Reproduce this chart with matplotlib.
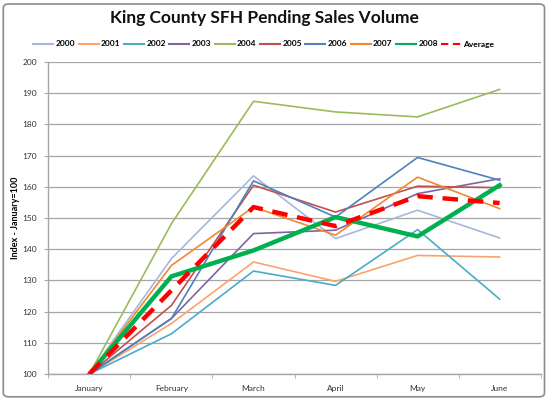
import matplotlib.pyplot as plt
from matplotlib.patches import FancyBboxPatch

plt.rcParams["font.family"] = ["Lato", "DejaVu Sans"]

# Data (index, January = 100)
months = ["January", "February", "March", "April", "May", "June"]

y2000 = [100, 137.0, 163.5, 143.4, 152.5, 143.6]
y2001 = [100, 116.2, 135.9, 129.7, 138.0, 137.5]
y2002 = [100, 112.9, 133.0, 128.4, 146.3, 124.0]
y2003 = [100, 117.8, 145.0, 146.1, 157.8, 162.6]
y2004 = [100, 148.2, 187.4, 184.0, 182.4, 191.2]
y2005 = [100, 122.0, 160.5, 151.9, 160.2, 159.7]
y2006 = [100, 117.8, 161.9, 150.3, 169.4, 162.1]
y2007 = [100, 134.8, 153.5, 144.5, 163.1, 153.0]
y2008 = [100, 131.3, 139.6, 150.3, 144.1, 160.5]
average = [100, 126.8, 153.5, 147.4, 157.0, 154.8]

series = [
    ("2000", y2000, "#A5B8DC"),
    ("2001", y2001, "#F9A46E"),
    ("2002", y2002, "#4BACC6"),
    ("2003", y2003, "#8064A2"),
    ("2004", y2004, "#9BBB59"),
    ("2005", y2005, "#C0504D"),
    ("2006", y2006, "#4F81BD"),
    ("2007", y2007, "#F0882E"),
]

fig = plt.figure(figsize=(5.5, 4), dpi=100)

# chart border
border = FancyBboxPatch((0.006, 0.008), 0.984, 0.982, boxstyle="round,pad=0,rounding_size=0.01",
                        transform=fig.transFigure, facecolor="white", edgecolor="#8C8C8C",
                        linewidth=1.2, zorder=-10)
fig.patches.append(border)

ax = fig.add_axes([0.088, 0.065, 0.895, 0.78])
ax.set_facecolor("none")

x = list(range(len(months)))
for name, vals, col in series:
    ax.plot(x, vals, color=col, linewidth=1.2, label=name, zorder=3)

ax.plot(x, y2008, color="#00B050", linewidth=3.2, label="2008", zorder=4)
ax.plot(x, average, color="#FF0000", linewidth=3.2, linestyle=(0, (3.5, 2.2)),
        label="Average", zorder=5)

ax.set_ylim(100, 200)
ax.set_yticks(range(100, 201, 10))
ax.set_xlim(-0.5, 5.5)
ax.set_xticks(x)
ax.set_xticklabels(months)
ax.set_xticks([i + 0.5 for i in range(-1, 6)], minor=True)

ax.grid(axis="y", color="#A6A6A6", linewidth=0.9)
ax.set_axisbelow(True)
ax.tick_params(axis="x", which="major", length=0, labelsize=6, colors="#333333", pad=8)
ax.tick_params(axis="x", which="minor", length=3, color="#A6A6A6")
ax.tick_params(axis="y", length=3, color="#A6A6A6", labelsize=6, labelcolor="#333333", pad=5)

for side in ["top", "right"]:
    ax.spines[side].set_visible(False)
for side in ["left", "bottom"]:
    ax.spines[side].set_color("#A6A6A6")
    ax.spines[side].set_linewidth(1.0)

ax.set_ylabel("Index - January=100", fontsize=6.5, fontweight="bold", labelpad=2)

fig.text(0.48, 0.955, "King County SFH Pending Sales Volume", ha="center", va="center",
         fontsize=12.5, fontweight="bold", color="#111111")

handles, labels = ax.get_legend_handles_labels()
leg = fig.legend(handles, labels, loc="center", bbox_to_anchor=(0.48, 0.89), ncol=10,
                 frameon=False, fontsize=6, handlelength=2.4, handletextpad=0.25,
                 columnspacing=0.45)
for t in leg.get_texts():
    t.set_fontweight("bold")
for h in leg.get_lines():
    h.set_linewidth(1.5)

fig.savefig("out.png", dpi=100)
